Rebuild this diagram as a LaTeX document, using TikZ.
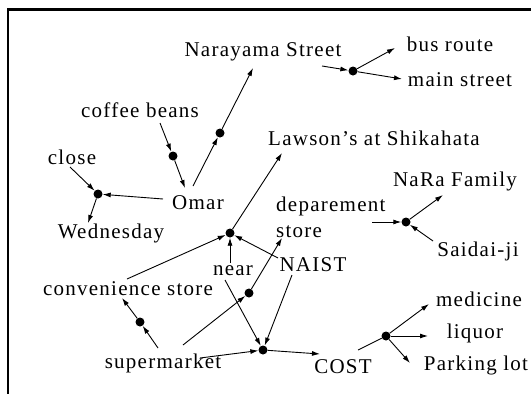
\documentclass[tikz,border=0pt]{standalone}
\usepackage{fontspec}
\setmainfont{Liberation Serif}[LetterSpace=6]
\usetikzlibrary{arrows.meta}
\begin{document}
\begin{tikzpicture}[x=1pt,y=-1pt,
  lbl/.style={inner sep=0pt,font=\fontsize{21}{26}\selectfont},
  dot/.style={circle,fill=black,inner sep=0pt,minimum size=9pt},
  arr/.style={line width=0.9pt,-{Latex[length=8pt,width=5pt]}},
  ln/.style={line width=0.9pt}]
\useasboundingbox (0,0) rectangle (531,394);
% frame
\draw[line width=2.5pt,line join=miter] (531,9.5) -- (8,9.5) -- (8,394);

% labels
\node[lbl] (nara) at (263,52) {Narayama Street};
\node[lbl] (bus) at (450,44) {bus route};
\node[lbl] (mainst) at (460,80) {main street};
\node[lbl] (coffee) at (140,110) {coffee beans};
\node[lbl] (close) at (72,157) {close};
\node[lbl] (lawson) at (374,138) {Lawson's at Shikahata};
\node[lbl] (omar) at (198,203) {Omar};
\node[lbl] (wed) at (111,233) {Wednesday};
\node[lbl] (narafam) at (455,181) {NaRa Family};
\node[lbl,anchor=west,align=left] (dept) at (276,217) {deparement\\store};
\node[lbl] (naist) at (313,265) {NAIST};
\node[lbl] (near) at (233,271) {near};
\node[lbl] (conv) at (128,289) {convenience store};
\node[lbl] (saidai) at (478,251) {Saidai-ji};
\node[lbl] (med) at (479,299) {medicine};
\node[lbl] (liq) at (475,333) {liquor};
\node[lbl] (park) at (476,365) {Parking lot};
\node[lbl] (superm) at (163,363) {supermarket};
\node[lbl] (cost) at (343,367) {COST};

% junction dots
\node[dot] (d1) at (353,71) {};
\node[dot] (d2) at (220,133) {};
\node[dot] (d3) at (173,156) {};
\node[dot] (d4) at (98,194) {};
\node[dot] (d5) at (230,233) {};
\node[dot] (d6) at (249,293) {};
\node[dot] (d7) at (263,350) {};
\node[dot] (d8) at (140,322) {};
\node[dot] (d9) at (406,222) {};
\node[dot] (d10) at (386,336) {};

% Narayama Street
\draw[arr] ([shift={(59,14)}]nara.center) -- (d1);
\draw[arr] (d1) -- ([shift={(-55,4)}]bus.center);
\draw[arr] (d1) -- ([shift={(-58,-1)}]mainst.center);
% Omar
\draw[arr] ([shift={(-5,-17)}]omar.center) -- (d2);
\draw[arr] (d2) -- ([shift={(-10,16)}]nara.center);
\draw[arr] ([shift={(20,13)}]coffee.center) -- (d3);
\draw[arr] (d3) -- ([shift={(-13,-15)}]omar.center);
\draw[arr] ([shift={(-2,10)}]close.center) -- (d4);
\draw[arr] ([shift={(-35,-4)}]omar.center) -- (d4);
\draw[arr] (d4) -- ([shift={(-23,-10)}]wed.center);
% Lawson's
\draw[arr] (d5) -- ([shift={(-92,15)}]lawson.center);
\draw[arr] ([shift={(-1,-10)}]conv.center) -- (d5);
\draw[arr] ([shift={(-3,-8)}]near.center) -- (d5);
\draw[arr] ([shift={(-35,-7)}]naist.center) -- (d5);
% department store
\draw[arr] ([shift={(20,-18)}]superm.center) -- (d6);
\draw[arr] (d6) -- ([shift={(6,21)}]dept.west);
% COST
\draw[arr] ([shift={(-8,9)}]near.center) -- (d7);
\draw[arr] ([shift={(-21,10)}]naist.center) -- (d7);
\draw[arr] ([shift={(37,-5)}]superm.center) -- (d7);
\draw[arr] (d7) -- ([shift={(-23,-13)}]cost.center);
% convenience store
\draw[arr] ([shift={(-5,-15)}]superm.center) -- (d8);
\draw[arr] (d8) -- ([shift={(-6,9)}]conv.center);
% NaRa Family
\draw[arr] ([shift={(96,5)}]dept.west) -- (d9);
\draw[arr] (d9) -- ([shift={(-12,14)}]narafam.center);
\draw[arr] ([shift={(-45,-10)}]saidai.center) -- (d9);
% COST branches
\draw[ln] ([shift={(15,-17)}]cost.center) -- (d10);
\draw[arr] (d10) -- ([shift={(-50,5)}]med.center);
\draw[arr] (d10) -- ([shift={(-47,3)}]liq.center);
\draw[arr] (d10) -- ([shift={(-66,-2)}]park.center);
\end{tikzpicture}
\end{document}
